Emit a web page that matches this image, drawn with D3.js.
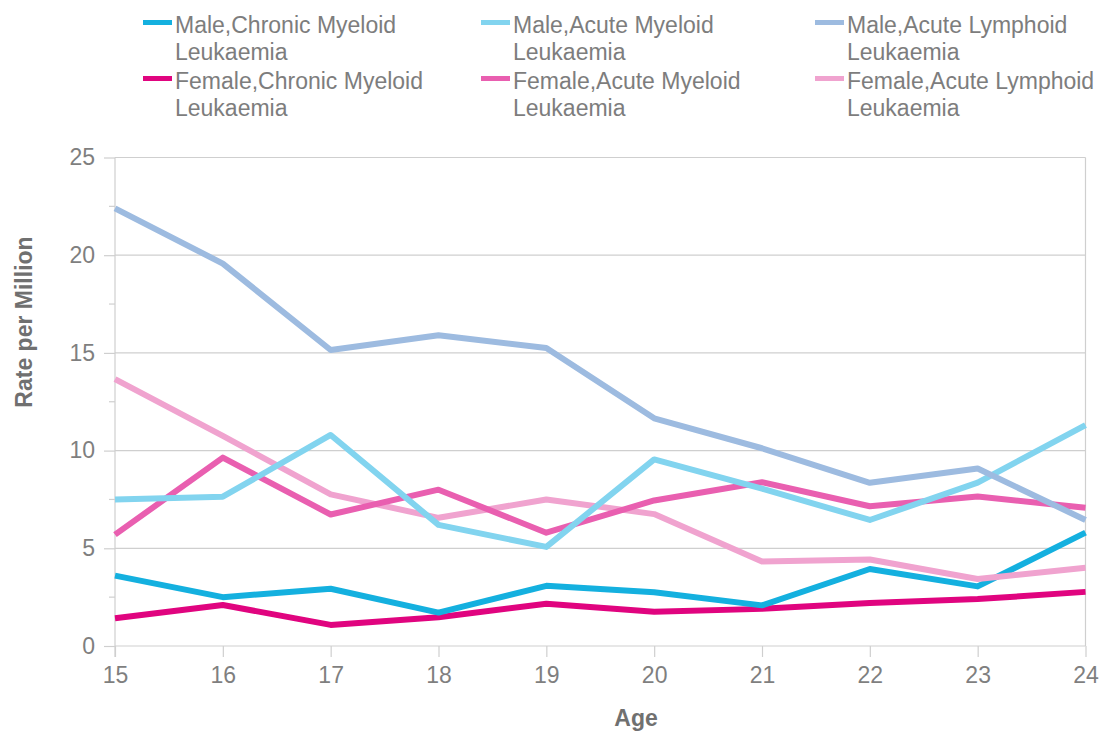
<!DOCTYPE html>
<html>
<head>
<meta charset="utf-8">
<script src="https://cdn.jsdelivr.net/npm/d3@7"></script>
<style>
  html, body { margin: 0; padding: 0; background: #fff; }
  svg { display: block; font-family: "Liberation Sans", Arial, Helvetica, sans-serif; }
</style>
</head>
<body>
<svg id="chart" width="1112" height="735"></svg>
<script>
const ages = [15, 16, 17, 18, 19, 20, 21, 22, 23, 24];
const yTicks = [0, 5, 10, 15, 20, 25];
const yMinorTicks = [2.5, 7.5, 12.5, 17.5, 22.5];

const maleCML   = [3.6, 2.5, 2.93, 1.71, 3.08, 2.75, 2.08, 3.94, 3.05, 5.8];
const femaleCML = [1.42, 2.1, 1.08, 1.47, 2.16, 1.75, 1.9, 2.2, 2.4, 2.77];
const maleAML   = [7.5, 7.64, 10.8, 6.2, 5.07, 9.55, 8.05, 6.45, 8.36, 11.3];
const femaleAML = [5.7, 9.64, 6.73, 8.0, 5.8, 7.45, 8.38, 7.15, 7.65, 7.07];
const maleALL   = [22.4, 19.57, 15.15, 15.9, 15.25, 11.65, 10.12, 8.35, 9.08, 6.45];
const femaleALL = [13.66, 10.75, 7.76, 6.56, 7.5, 6.75, 4.33, 4.43, 3.43, 4.0];

const seriesNames = [
  "Male,Chronic Myeloid Leukaemia",
  "Male,Acute Myeloid Leukaemia",
  "Male,Acute Lymphoid Leukaemia",
  "Female,Chronic Myeloid Leukaemia",
  "Female,Acute Myeloid Leukaemia",
  "Female,Acute Lymphoid Leukaemia"
];
const seriesValues = [maleCML, maleAML, maleALL, femaleCML, femaleAML, femaleALL];
const seriesColors = ["#14b0df", "#82d4ef", "#9dbbe0", "#e0047f", "#e95fb0", "#f0a3cf"];

const svg = d3.select("#chart");
const plotL = 115, plotR = 1085.5, plotT = 157.5, plotB = 646;

const x = d3.scaleLinear().domain([15, 24]).range([plotL, plotR]);
const y = d3.scaleLinear().domain([0, 25]).range([plotB, plotT]);

const grid = "#cfcfcf";
const tickText = "#7f7f7f";
const fontFam = "'Liberation Sans', Arial, sans-serif";

// gridlines
svg.append("g").selectAll("line").data(yTicks).join("line")
  .attr("x1", plotL).attr("x2", plotR)
  .attr("y1", d => y(d)).attr("y2", d => y(d))
  .attr("stroke", grid).attr("stroke-width", 1.2);

// right border
svg.append("line").attr("x1", plotR).attr("x2", plotR)
  .attr("y1", y(25)).attr("y2", y(0))
  .attr("stroke", grid).attr("stroke-width", 1.2);

// y axis
const yAxis = d3.axisLeft(y).tickValues(yTicks).tickSize(11).tickPadding(9).tickFormat(d3.format("d"));
const gy = svg.append("g").attr("transform", `translate(${plotL},0)`).call(yAxis);
gy.select(".domain").remove();
gy.selectAll(".tick line").attr("stroke", grid).attr("stroke-width", 1.2);
gy.selectAll(".tick text").attr("fill", tickText).style("font-size", "23px")
  .style("font-family", fontFam);
svg.append("g").selectAll("line").data(yMinorTicks).join("line")
  .attr("x1", plotL - 6).attr("x2", plotL)
  .attr("y1", d => y(d)).attr("y2", d => y(d))
  .attr("stroke", grid).attr("stroke-width", 1.2);
svg.append("line").attr("x1", plotL).attr("x2", plotL)
  .attr("y1", y(25)).attr("y2", y(0) + 11)
  .attr("stroke", grid).attr("stroke-width", 1.2);

// x axis
const xAxis = d3.axisBottom(x).tickValues(ages).tickSize(11).tickPadding(10).tickFormat(d3.format("d"));
const gx = svg.append("g").attr("transform", `translate(0,${plotB})`).call(xAxis);
gx.select(".domain").remove();
gx.selectAll(".tick line").attr("stroke", grid).attr("stroke-width", 1.2);
gx.selectAll(".tick text").attr("fill", tickText).style("font-size", "23px")
  .style("font-family", fontFam);

// axis titles
svg.append("text").attr("x", 636).attr("y", 726)
  .attr("text-anchor", "middle").attr("fill", "#707070")
  .style("font-size", "23px").style("font-weight", "bold").text("Age");
svg.append("text")
  .attr("transform", `translate(32,322) rotate(-90)`)
  .attr("text-anchor", "middle").attr("fill", "#707070")
  .style("font-size", "23px").style("font-weight", "bold").text("Rate per Million");

// lines
const line = d3.line().x((d, i) => x(ages[i])).y(d => y(d)).curve(d3.curveLinear);
const drawOrder = [3, 0, 5, 4, 1, 2];
svg.append("g").selectAll("path").data(drawOrder).join("path")
  .attr("d", k => line(seriesValues[k]))
  .attr("fill", "none")
  .attr("stroke", k => seriesColors[k])
  .attr("stroke-width", 6)
  .attr("stroke-linejoin", "round")
  .attr("stroke-linecap", "butt");

// legend
const colX = [143, 481, 815];
const rowY = [0, 56];
const legend = svg.append("g");
seriesNames.forEach((name, i) => {
  const col = i % 3, row = Math.floor(i / 3);
  const gx0 = colX[col], gy0 = rowY[row];
  const g = legend.append("g").attr("transform", `translate(${gx0},${gy0})`);
  g.append("line").attr("x1", 0).attr("x2", 29).attr("y1", 22.5).attr("y2", 22.5)
    .attr("stroke", seriesColors[i]).attr("stroke-width", 5);
  const parts = name.split(" Leukaemia");
  const t = g.append("text").attr("fill", "#7d7d7d").style("font-size", "23px");
  t.append("tspan").attr("x", 32).attr("y", 33).text(parts[0]);
  t.append("tspan").attr("x", 32).attr("y", 60).text("Leukaemia");
});
</script>
</body>
</html>
